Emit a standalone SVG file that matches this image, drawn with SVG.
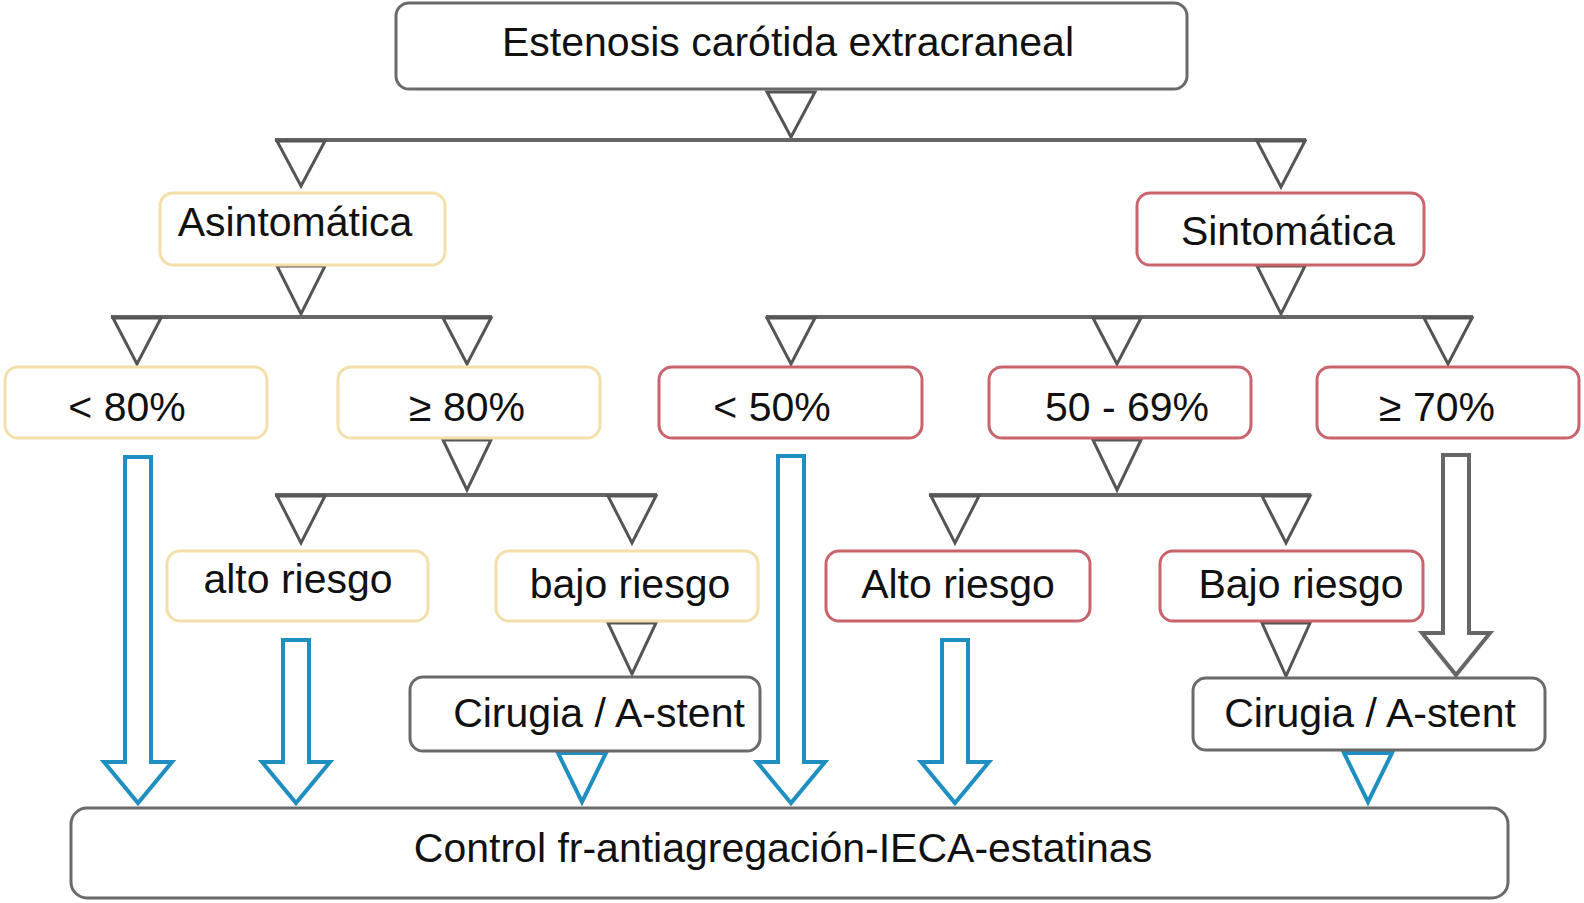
<svg xmlns="http://www.w3.org/2000/svg" width="1584" height="903" viewBox="0 0 1584 903">
<style>
  .bx{fill:#fff;stroke-width:3}
  .g{stroke:#6a6a6a}
  .y{stroke:#f3dfa9}
  .r{stroke:#c9636c}
  .t{font-family:"Liberation Sans",Arial,Helvetica,sans-serif;font-size:41px;fill:#111;text-anchor:middle}
  .tri{fill:#fff;stroke:#555;stroke-width:3;stroke-linejoin:miter}
  .btri{fill:#fff;stroke:#1e8fc0;stroke-width:4;stroke-linejoin:miter}
  .ln{stroke:#666;stroke-width:4;fill:none}
  .barr{fill:#fff;stroke:#1e8fc0;stroke-width:4;stroke-linejoin:miter}
  .garr{fill:#fff;stroke:#666;stroke-width:4;stroke-linejoin:miter}
</style>
<rect width="1584" height="903" fill="#fff"/>

<g id="connectors">
  <!-- level 1 -->
  <polygon class="tri" points="767,92 815,92 791,137"/>
  <line class="ln" x1="275" y1="140" x2="1306" y2="140"/>
  <polygon class="tri" points="277,141 325,141 301,186"/>
  <polygon class="tri" points="1257,141 1305,141 1281,187"/>
  <!-- asintomatica -->
  <polygon class="tri" points="277,266 325,266 301,314"/>
  <line class="ln" x1="111" y1="317" x2="492" y2="317"/>
  <polygon class="tri" points="113,318 161,318 137,364"/>
  <polygon class="tri" points="443,318 491,318 467,364"/>
  <!-- sintomatica -->
  <polygon class="tri" points="1257,266 1305,266 1281,314"/>
  <line class="ln" x1="766" y1="317" x2="1473" y2="317"/>
  <polygon class="tri" points="767,318 815,318 791,364"/>
  <polygon class="tri" points="1093,318 1141,318 1117,364"/>
  <polygon class="tri" points="1424,318 1472,318 1448,364"/>
  <!-- >=80 -->
  <polygon class="tri" points="443,440 491,440 467,490"/>
  <line class="ln" x1="275" y1="495" x2="657" y2="495"/>
  <polygon class="tri" points="277,496 325,496 301,543"/>
  <polygon class="tri" points="608,496 656,496 632,543"/>
  <!-- 50-69 -->
  <polygon class="tri" points="1093,440 1141,440 1117,490"/>
  <line class="ln" x1="929" y1="495" x2="1311" y2="495"/>
  <polygon class="tri" points="931,496 979,496 955,543"/>
  <polygon class="tri" points="1262,496 1310,496 1286,543"/>
  <!-- bajo riesgo -> cirugia -->
  <polygon class="tri" points="608,623 656,623 632,674"/>
  <polygon class="tri" points="1262,623 1310,623 1286,676"/>
  <!-- >=70 grey arrow -->
  <path class="garr" d="M1443,455 L1469,455 L1469,633 L1490,633 L1456,675 L1422,633 L1443,633 Z"/>
  <!-- blue arrows to bottom -->
  <path class="barr" d="M125,457 L151,457 L151,762 L172,762 L138,803 L104,762 L125,762 Z"/>
  <path class="barr" d="M283,640 L309,640 L309,762 L330,762 L296,803 L262,762 L283,762 Z"/>
  <path class="barr" d="M778,456 L804,456 L804,762 L825,762 L791,803 L757,762 L778,762 Z"/>
  <path class="barr" d="M942,640 L968,640 L968,762 L989,762 L955,803 L921,762 L942,762 Z"/>
  <polygon class="btri" points="558,753 606,753 582,802"/>
  <polygon class="btri" points="1344,753 1392,753 1368,802"/>
</g>

<g id="n-root">
  <rect class="bx g" x="396" y="3" width="791" height="86" rx="13"/>
  <text class="t" x="788" y="56">Estenosis carótida extracraneal</text>
</g>
<g id="n-asint">
  <rect class="bx y" x="160" y="193" width="285" height="72" rx="13"/>
  <text class="t" x="295" y="236">Asintomática</text>
</g>
<g id="n-sint">
  <rect class="bx r" x="1137" y="193" width="287" height="72" rx="13"/>
  <text class="t" x="1288" y="245">Sintomática</text>
</g>
<g id="n-lt80">
  <rect class="bx y" x="5" y="367" width="262" height="71" rx="13"/>
  <text class="t" x="127" y="421">&lt; 80%</text>
</g>
<g id="n-ge80">
  <rect class="bx y" x="338" y="367" width="262" height="71" rx="13"/>
  <text class="t" x="467" y="421">≥ 80%</text>
</g>
<g id="n-lt50">
  <rect class="bx r" x="659" y="367" width="263" height="71" rx="13"/>
  <text class="t" x="772" y="421">&lt; 50%</text>
</g>
<g id="n-5069">
  <rect class="bx r" x="989" y="367" width="262" height="71" rx="13"/>
  <text class="t" x="1127" y="421">50 - 69%</text>
</g>
<g id="n-ge70">
  <rect class="bx r" x="1317" y="367" width="262" height="71" rx="13"/>
  <text class="t" x="1437" y="421">≥ 70%</text>
</g>
<g id="n-alto-a">
  <rect class="bx y" x="167" y="551" width="261" height="70" rx="13"/>
  <text class="t" x="298" y="593">alto riesgo</text>
</g>
<g id="n-bajo-a">
  <rect class="bx y" x="496" y="551" width="262" height="70" rx="13"/>
  <text class="t" x="630" y="598">bajo riesgo</text>
</g>
<g id="n-alto-s">
  <rect class="bx r" x="826" y="551" width="264" height="70" rx="13"/>
  <text class="t" x="958" y="598">Alto riesgo</text>
</g>
<g id="n-bajo-s">
  <rect class="bx r" x="1160" y="551" width="263" height="70" rx="13"/>
  <text class="t" x="1301" y="598">Bajo riesgo</text>
</g>
<g id="n-cir-a">
  <rect class="bx g" x="410" y="677" width="350" height="74" rx="13"/>
  <text class="t" x="599" y="727">Cirugia / A-stent</text>
</g>
<g id="n-cir-s">
  <rect class="bx g" x="1193" y="678" width="352" height="72" rx="13"/>
  <text class="t" x="1370" y="727">Cirugia / A-stent</text>
</g>
<g id="n-control">
  <rect class="bx g" x="71" y="808" width="1437" height="90" rx="16"/>
  <text class="t" x="783" y="862">Control fr-antiagregación-IECA-estatinas</text>
</g>
</svg>
